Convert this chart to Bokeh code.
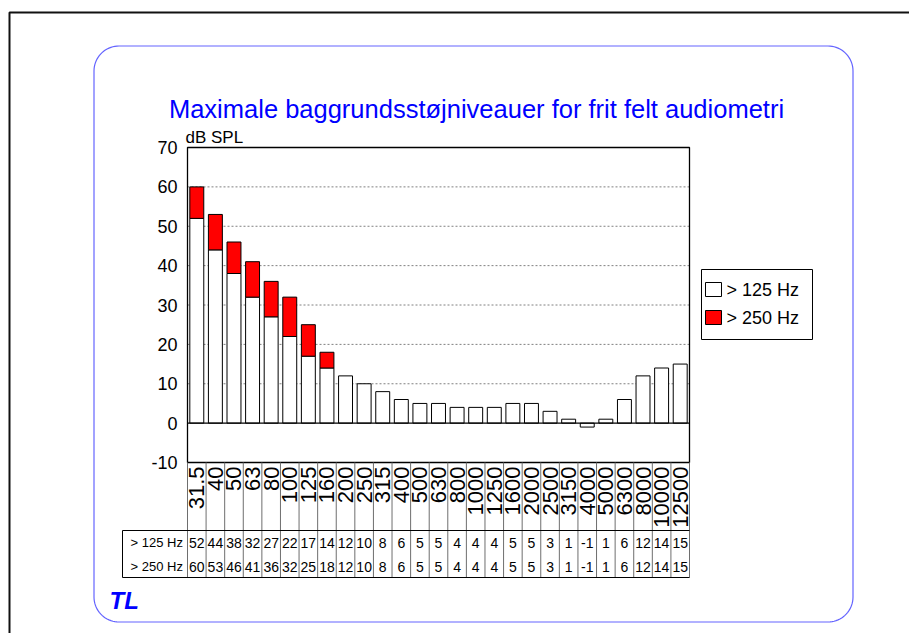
import numpy as np
from bokeh.plotting import figure
from bokeh.models import Range1d
from bokeh.embed import file_html
from bokeh.resources import INLINE
from bokeh.core.properties import value

# ---------------- data ----------------
title_text = "Maximale baggrundsstøjniveauer for frit felt audiometri"
y_label = "dB SPL"
frequencies = ["31.5", "40", "50", "63", "80", "100", "125", "160", "200", "250",
               "315", "400", "500", "630", "800", "1000", "1250", "1600", "2000",
               "2500", "3150", "4000", "5000", "6300", "8000", "10000", "12500"]
level_125 = [52, 44, 38, 32, 27, 22, 17, 14, 12, 10, 8, 6, 5, 5, 4, 4, 4, 5, 5,
             3, 1, -1, 1, 6, 12, 14, 15]
level_250 = [60, 53, 46, 41, 36, 32, 25, 18, 12, 10, 8, 6, 5, 5, 4, 4, 4, 5, 5,
             3, 1, -1, 1, 6, 12, 14, 15]
series_names = ["> 125 Hz", "> 250 Hz"]
series_colors = ["#ffffff", "#ff0000"]
y_ticks = [70, 60, 50, 40, 30, 20, 10, 0, -10]
y_min, y_max = -10, 70

# ---------------- layout (page pixels) ----------------
FONT = value("Liberation Sans")
W, H = 909, 633
OX, OY = 0, 0
PL, PR, PT, PB = 187, 689, 147, 462
n = len(frequencies)
kx = (PR - PL) / n
ky = (PB - PT) / (y_max - y_min)


def X(px):
    return -0.5 + (px - PL) / kx


def Y(py):
    return y_max - (py - PT) / ky


p = figure(width=W, height=H,
           x_range=Range1d(X(OX), X(OX + W)),
           y_range=Range1d(Y(OY + H), Y(OY)),
           output_backend="svg", toolbar_location=None,
           x_axis_location=None, y_axis_location=None,
           min_border=0, outline_line_color=None)
p.min_border_left = p.min_border_right = p.min_border_top = p.min_border_bottom = 0
p.xgrid.visible = False
p.ygrid.visible = False
p.background_fill_color = "white"
p.border_fill_color = "white"

# outer page frame
p.line([X(9), X(9), X(960)], [Y(700), Y(12), Y(12)], line_color="#111111", line_width=2)


# rounded slide border
def rounded_rect(l, t, r, b, rad, m=20):
    xs, ys = [], []
    corners = [(r - rad, t + rad, -90, 0), (r - rad, b - rad, 0, 90),
               (l + rad, b - rad, 90, 180), (l + rad, t + rad, 180, 270)]
    for cx, cy, a0, a1 in corners:
        for a in np.linspace(np.radians(a0), np.radians(a1), m):
            xs.append(cx + rad * np.cos(a))
            ys.append(cy + rad * np.sin(a))
    xs.append(xs[0])
    ys.append(ys[0])
    return [X(v) for v in xs], [Y(v) for v in ys]


rx, ry = rounded_rect(93.5, 45.5, 852.5, 621.5, 25)
p.line(rx, ry, line_color="#6464ff", line_width=1.2)

# title and unit label
p.text(x=[X(476)], y=[Y(108)], text=[title_text], text_align="center",
       text_baseline="alphabetic", text_font=FONT, text_font_size="25.5px",
       text_color="#0000ff")
p.text(x=[X(185)], y=[Y(137)], text=[y_label], text_align="left",
       text_baseline="alphabetic", text_font=FONT, text_font_size="17px",
       text_color="black")

# dotted gridlines
grid_vals = [t for t in y_ticks if y_min < t < y_max and t != 0]
p.segment(x0=[-0.5] * len(grid_vals), x1=[n - 0.5] * len(grid_vals),
          y0=grid_vals, y1=grid_vals, line_color="#808080", line_width=1,
          line_dash="2 2")

# bars
idx = list(range(n))
p.vbar(x=idx, width=0.75, bottom=0, top=level_125, fill_color=series_colors[0],
       line_color="black", line_width=1)
red_idx = [i for i in idx if level_250[i] > level_125[i]]
p.vbar(x=red_idx, width=0.75, bottom=[level_125[i] for i in red_idx],
       top=[level_250[i] for i in red_idx], fill_color=series_colors[1],
       line_color="black", line_width=1)

# plot frame and zero line
p.quad(left=[-0.5], right=[n - 0.5], bottom=[y_min], top=[y_max],
       fill_color=None, line_color="black", line_width=1.3)
p.segment(x0=[-0.5], x1=[n - 0.5], y0=[0], y1=[0], line_color="black", line_width=1.2)

# y tick labels
p.text(x=[X(177)] * len(y_ticks), y=y_ticks, text=[str(t) for t in y_ticks],
       text_align="right", text_baseline="middle", text_font=FONT,
       text_font_size="18px", text_color="black")

# category labels (rotated)
p.text(x=idx, y=[Y(466)] * n, text=frequencies, angle=np.pi / 2,
       text_align="right", text_baseline="middle", text_font=FONT,
       text_font_size="22px", text_color="black")

# data table grid
sep = [i - 0.5 for i in range(n + 1)]
p.segment(x0=sep, x1=sep, y0=[Y(462)] * len(sep), y1=[Y(577)] * len(sep),
          line_color="#6e6e6e", line_width=1)
p.segment(x0=[X(122), X(122), X(122)], x1=[n - 0.5, n - 0.5, X(122)],
          y0=[Y(530), Y(577), Y(530)], y1=[Y(530), Y(577), Y(577)],
          line_color="black", line_width=1)

row_y = [Y(542), Y(566)]
for series, ry_ in zip([level_125, level_250], row_y):
    p.text(x=idx, y=[ry_] * n, text=[str(v) for v in series], text_align="center",
           text_baseline="middle", text_font=FONT, text_font_size="14px",
           text_color="black")
p.text(x=[X(130)] * 2, y=row_y, text=series_names, text_align="left",
       text_baseline="middle", text_font=FONT, text_font_size="13px",
       text_color="black")

# legend
p.quad(left=[X(701)], right=[X(812)], top=[Y(269)], bottom=[Y(339)],
       fill_color="white", line_color="black", line_width=1)
leg_y = [289, 317]
p.quad(left=[X(705)] * 2, right=[X(721)] * 2,
       top=[Y(v - 7) for v in leg_y], bottom=[Y(v + 7) for v in leg_y],
       fill_color=series_colors, line_color="black", line_width=1)
p.text(x=[X(726)] * 2, y=[Y(v) for v in leg_y], text=series_names,
       text_align="left", text_baseline="middle", text_font=FONT,
       text_font_size="18px", text_color="black")

# logo
p.text(x=[X(109)], y=[Y(600)], text=["TL"], text_align="left",
       text_baseline="middle", text_font=FONT, text_font_size="24px",
       text_font_style="bold italic", text_color="#0000ff")

open("out.html", "w").write(file_html(p, INLINE))
